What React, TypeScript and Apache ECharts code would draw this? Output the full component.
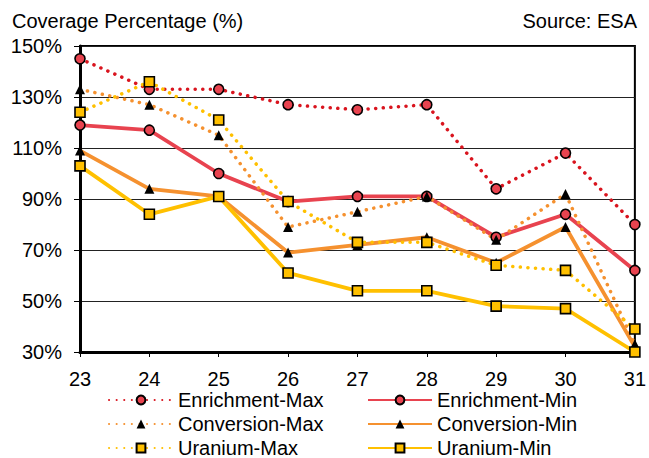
import React, { useEffect, useRef } from "react";
import * as echarts from "echarts";

const categories = ["23", "24", "25", "26", "27", "28", "29", "30", "31"];
const enrichmentMax = [145, 133, 133, 127, 125, 127, 94, 108, 80];
const enrichmentMin = [119, 117, 100, 89, 91, 91, 75, 84, 62];
const conversionMax = [133, 127, 115, 79, 85, 91, 74, 92, 33];
const conversionMin = [109, 94, 91, 69, 72, 75, 65, 79, 32];
const uraniumMax = [124, 136, 121, 89, 73, 73, 64, 62, 39];
const uraniumMin = [103, 84, 91, 61, 54, 54, 48, 47, 30];

const FONT = "'Liberation Sans', Arial, sans-serif";
const FS = 20;
const DOT: any = [0.1, 7.5];

export default function App() {
  const ref = useRef<HTMLDivElement>(null);
  useEffect(() => {
    if (!ref.current) return;
    const chart = echarts.init(ref.current, undefined, { renderer: "svg" });
    const mk = (
      name: string,
      data: number[],
      lineColor: string,
      fill: string,
      dotted: boolean,
      symbol: string,
      size: number,
      border: boolean
    ) => ({
      name,
      type: "line",
      data,
      symbol,
      symbolSize: size,
      showSymbol: true,
      lineStyle: {
        color: lineColor,
        width: dotted ? 3.5 : 3.8,
        type: dotted ? DOT : "solid",
        cap: dotted ? "round" : "butt",
      },
      itemStyle: {
        color: fill,
        borderColor: "#000",
        borderWidth: border ? 1.6 : 0,
      },
      emphasis: { disabled: true },
      z: 3,
    });
    const legendCommon = {
      orient: "vertical",
      top: 390,
      height: 120,
      padding: 0,
      itemWidth: 64,
      itemHeight: 11,
      itemGap: 4,
      textStyle: { fontFamily: FONT, fontSize: FS, color: "#000", lineHeight: 18 },
      selectedMode: false,
    };
    chart.setOption({
      animation: false,
      textStyle: { fontFamily: FONT },
      title: [
        {
          text: "Coverage Percentage (%)",
          left: 7,
          top: 6,
          padding: [5, 5],
          textStyle: { fontFamily: FONT, fontSize: FS, fontWeight: "normal", color: "#000" },
        },
        {
          text: "Source: ESA",
          right: 7,
          top: 6,
          padding: [5, 5],
          textStyle: { fontFamily: FONT, fontSize: FS, fontWeight: "normal", color: "#000" },
        },
      ],
      grid: {
        left: 80,
        right: 11,
        top: 46,
        bottom: 106,
        show: true,
        borderColor: "#000",
        borderWidth: 2,
        backgroundColor: "transparent",
      },
      legend: [
        {
          ...legendCommon,
          left: 108,
          data: ["Enrichment-Max", "Conversion-Max", "Uranium-Max"],
        },
        {
          ...legendCommon,
          left: 367,
          data: ["Enrichment-Min", "Conversion-Min", "Uranium-Min"],
        },
      ],
      xAxis: {
        type: "category",
        data: categories,
        boundaryGap: false,
        axisLine: { lineStyle: { color: "#000", width: 3 } },
        axisTick: { show: true, length: 5, lineStyle: { color: "#000", width: 1 } },
        axisLabel: { fontFamily: FONT, fontSize: FS, color: "#000", margin: 17 },
        splitLine: { show: false },
      },
      yAxis: {
        type: "value",
        min: 30,
        max: 150,
        interval: 20,
        axisLine: { show: true, lineStyle: { color: "#000", width: 3 } },
        axisTick: { show: true, length: 6, lineStyle: { color: "#000", width: 1 } },
        axisLabel: {
          fontFamily: FONT,
          fontSize: FS,
          color: "#000",
          margin: 18,
          formatter: (v: number) => v + "%",
        },
        splitLine: { show: true, lineStyle: { color: "#222", width: 1.2 } },
      },
      series: [
        mk("Enrichment-Max", enrichmentMax, "#d9141e", "#e8434f", true, "circle", 10, true),
        mk("Enrichment-Min", enrichmentMin, "#e8434f", "#e8434f", false, "circle", 10, true),
        mk("Conversion-Max", conversionMax, "#f5912f", "#000", true, "triangle", 10, false),
        mk("Conversion-Min", conversionMin, "#f5912f", "#000", false, "triangle", 10, false),
        mk("Uranium-Max", uraniumMax, "#ffc000", "#ffc000", true, "rect", 10, true),
        mk("Uranium-Min", uraniumMin, "#ffc000", "#ffc000", false, "rect", 10, true),
      ],
    });
    return () => chart.dispose();
  }, []);
  return <div ref={ref} style={{ width: 649, height: 458, position: "absolute", left: 0, top: 0 }} />;
}
